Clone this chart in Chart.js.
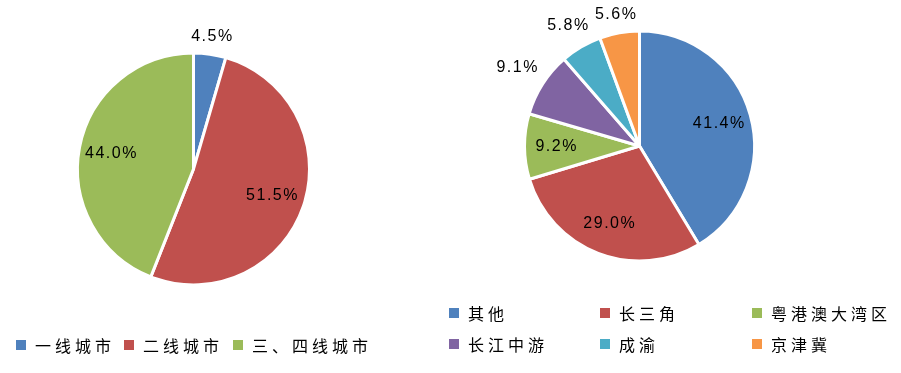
<!DOCTYPE html>
<html>
<head>
<meta charset="utf-8">
<script src="https://cdn.jsdelivr.net/npm/chart.js@4/dist/chart.umd.min.js"></script>
<style>
  html, body { margin: 0; padding: 0; background: #fff; }
  #wrap { position: relative; width: 901px; height: 373px; }
  #wrap canvas { position: absolute; left: 0; top: 0; }
</style>
</head>
<body>
<div id="wrap">
  <canvas id="tiers" width="901" height="373"></canvas>
  <canvas id="regions" width="901" height="373"></canvas>
</div>
<script>
// Two pies sharing one frame: city tiers (left) and regions (right).
const cityTiers = ["一线城市", "二线城市", "三、四线城市"];
const cityShares = [4.5, 51.5, 44.0];

const regionNames = ["其他", "长三角", "粤港澳大湾区", "长江中游", "成渝", "京津冀"];
const regionShares = [41.4, 29.0, 9.2, 9.1, 5.8, 5.6];

const PALETTE = ["#4F81BD", "#C0504D", "#9BBB59", "#8064A2", "#4BACC6", "#F79646"];

// value labels: inside the slice, or just outside for the listed indices
const pieLabels = {
  id: "pieLabels",
  afterDatasetsDraw(chart, args, opts) {
    const ctx = chart.ctx;
    const ds = chart.data.datasets[0];
    const outside = opts.outside || [];
    ctx.save();
    ctx.font = "16px 'Liberation Sans', Arial, sans-serif";
    ctx.letterSpacing = "1.5px";
    ctx.fillStyle = "#000";
    ctx.textAlign = "center";
    ctx.textBaseline = "middle";
    chart.getDatasetMeta(0).data.forEach((arc, i) => {
      const p = arc.getProps(["x", "y", "startAngle", "endAngle", "outerRadius"], true);
      const mid = (p.startAngle + p.endAngle) / 2;
      const cx = Math.cos(mid), cy = Math.sin(mid);
      const txt = ds.data[i].toFixed(1) + "%";
      let d;
      if (outside.includes(i)) {
        const w = ctx.measureText(txt).width;
        d = p.outerRadius + 8 + Math.abs(cx) * w / 2 + Math.abs(cy) * 7;
      } else {
        d = p.outerRadius * 0.72;
      }
      ctx.fillText(txt, p.x + cx * d, p.y + cy * d);
    });
    ctx.restore();
  },
};

// square-marker legend laid out on fixed columns/rows
const gridLegend = {
  id: "gridLegend",
  afterDraw(chart, args, opts) {
    const ctx = chart.ctx;
    const names = chart.data.labels;
    const colors = chart.data.datasets[0].backgroundColor;
    ctx.save();
    ctx.font = "16px 'Noto Sans CJK SC', sans-serif";
    ctx.letterSpacing = "4px";
    ctx.textBaseline = "middle";
    names.forEach((n, i) => {
      const x = opts.cols[i % opts.cols.length];
      const y = opts.rows[Math.floor(i / opts.cols.length)];
      ctx.fillStyle = colors[i];
      ctx.fillRect(x, y - 5, 10, 10);
      ctx.fillStyle = "#000";
      ctx.fillText(n, x + 19, y + 1);
    });
    ctx.restore();
  },
};

function pie(id, labels, values, radius, padding, labelOpts, legendOpts) {
  return new Chart(document.getElementById(id), {
    type: "pie",
    data: {
      labels,
      datasets: [{
        data: values,
        backgroundColor: PALETTE.slice(0, values.length),
        borderColor: "#fff",
        borderWidth: 3,
        radius,
      }],
    },
    options: {
      responsive: false,
      animation: false,
      events: [],
      layout: { padding },
      plugins: {
        legend: { display: false },
        tooltip: { enabled: false },
        pieLabels: labelOpts,
        gridLegend: legendOpts,
      },
    },
    plugins: [pieLabels, gridLegend],
  });
}

pie("tiers", cityTiers, cityShares, 116,
  { left: 78, right: 592, top: 54, bottom: 89 },
  { outside: [0] },
  { cols: [16, 124, 233], rows: [345] });

pie("regions", regionNames, regionShares, 115,
  { left: 525, right: 147, top: 32, bottom: 113 },
  { outside: [3, 4, 5] },
  { cols: [449, 600, 752], rows: [313, 344] });
</script>
</body>
</html>
